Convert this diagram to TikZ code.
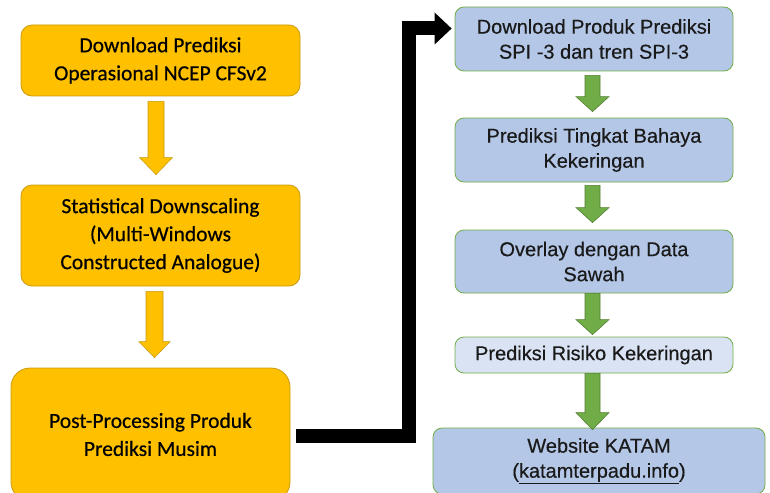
\documentclass[tikz,border=0pt]{standalone}
\usepackage{fontspec}
\setmainfont[FakeBold=0.5]{Carlito}
\newfontfamily\arialfont[FakeBold=0.4]{Liberation Sans}
\usetikzlibrary{arrows.meta,calc}

\definecolor{gold}{HTML}{FFC000}
\definecolor{goldline}{HTML}{C99A10}
\definecolor{skyfill}{HTML}{B4C7E7}
\definecolor{skypale}{HTML}{DAE3F3}
\definecolor{leaf}{HTML}{70AD47}
\definecolor{leafline}{HTML}{507E32}
\definecolor{inktext}{HTML}{1A1A1A}

\tikzset{
  goldbox/.style={draw=goldline, line width=0.8pt, fill=gold, rounded corners=11pt,
    align=center, font=\fontsize{21.5}{28}\selectfont, text=black, inner sep=0pt},
  skybox/.style={draw=leaf, line width=0.8pt, fill=skyfill, rounded corners=9pt,
    align=center, font=\arialfont\fontsize{20}{25}\selectfont, text=inktext, inner sep=0pt},
  goldarrow/.style={draw=goldline, line width=0.6pt, fill=gold},
  leafarrow/.style={draw=leafline, line width=0.6pt, fill=leaf},
  elbow/.style={draw=black, line width=14pt, line join=miter,
    -{Triangle[length=17pt,width=32pt,line width=0pt]}}
}

% block arrow pointing down: style, start, end, shaft half width, head half width, head length
\newcommand{\blockdown}[6]{%
  \path[#1] let \p1=(#2), \p2=(#3) in
    (\x1-#4pt,\y1) -- (\x1+#4pt,\y1) -- (\x1+#4pt,\y2+#6pt) -- (\x1+#5pt,\y2+#6pt)
    -- (\x1,\y2) -- (\x1-#5pt,\y2+#6pt) -- (\x1-#4pt,\y2+#6pt) -- cycle;}

\begin{document}
\begin{tikzpicture}[x=1pt,y=-1pt]
\useasboundingbox (0,0) rectangle (770,492);

% left column
\node[goldbox, minimum width=279pt, minimum height=71pt] (b1) at (160.5,60.5)
  {Download Prediksi\\Operasional NCEP CFSv2};
\node[goldbox, minimum width=279pt, minimum height=101pt] (b2) at (160.5,235.5)
  {Statistical Downscaling\\(Multi-Windows\\Constructed Analogue)};
\node[goldbox, rounded corners=19pt, minimum width=279pt, minimum height=133pt] (b3) at (150.5,434.5)
  {Post-Processing Produk\\Prediksi Musim};

% right column
\node[skybox, minimum width=278pt, minimum height=64pt] (r1) at (594,39)
  {Download Produk Prediksi\\SPI -3 dan tren SPI-3};
\node[skybox, minimum width=278pt, minimum height=64pt] (r2) at (594,150)
  {Prediksi Tingkat Bahaya\\Kekeringan};
\node[skybox, minimum width=278pt, minimum height=63pt] (r3) at (594,261.5)
  {Overlay dengan Data\\Sawah};
\node[skybox, fill=skypale, minimum width=278pt, minimum height=36pt] (r4) at (594,355)
  {Prediksi Risiko Kekeringan};
\node[skybox, minimum width=332pt, minimum height=66pt] (r5) at (599,461)
  {Website KATAM\\(\underline{katamterpadu.info})};

% arrows between steps
\blockdown{goldarrow}{[xshift=-4.5pt,yshift=-5pt]b1.south}{[xshift=-4.5pt,yshift=10pt]b2.north}{8}{16.5}{17}
\blockdown{goldarrow}{[xshift=-6pt,yshift=-5pt]b2.south}{[xshift=4.5pt,yshift=10pt]b3.north}{8.5}{15.5}{16}
\blockdown{leafarrow}{[xshift=-1.5pt,yshift=-4pt]r1.south}{[xshift=-1.5pt,yshift=6pt]r2.north}{7.5}{16.5}{15}
\blockdown{leafarrow}{[xshift=-1.5pt,yshift=-3pt]r2.south}{[xshift=-1.5pt,yshift=7pt]r3.north}{7.5}{16.5}{15}
\blockdown{leafarrow}{[xshift=-1.5pt,yshift=0pt]r3.south}{[xshift=-1.5pt,yshift=2pt]r4.north}{7.5}{16.5}{15}
\blockdown{leafarrow}{[xshift=-1.5pt,yshift=0pt]r4.south}{[xshift=-6.5pt,yshift=-2pt]r5.north}{7.5}{16.5}{17}

% link from the seasonal product to the SPI download
\draw[elbow] ([xshift=6pt,yshift=-1pt]b3.east) -| (408.5,28.5) -- ([xshift=-3pt,yshift=10.5pt]r1.west);
\end{tikzpicture}
\end{document}
